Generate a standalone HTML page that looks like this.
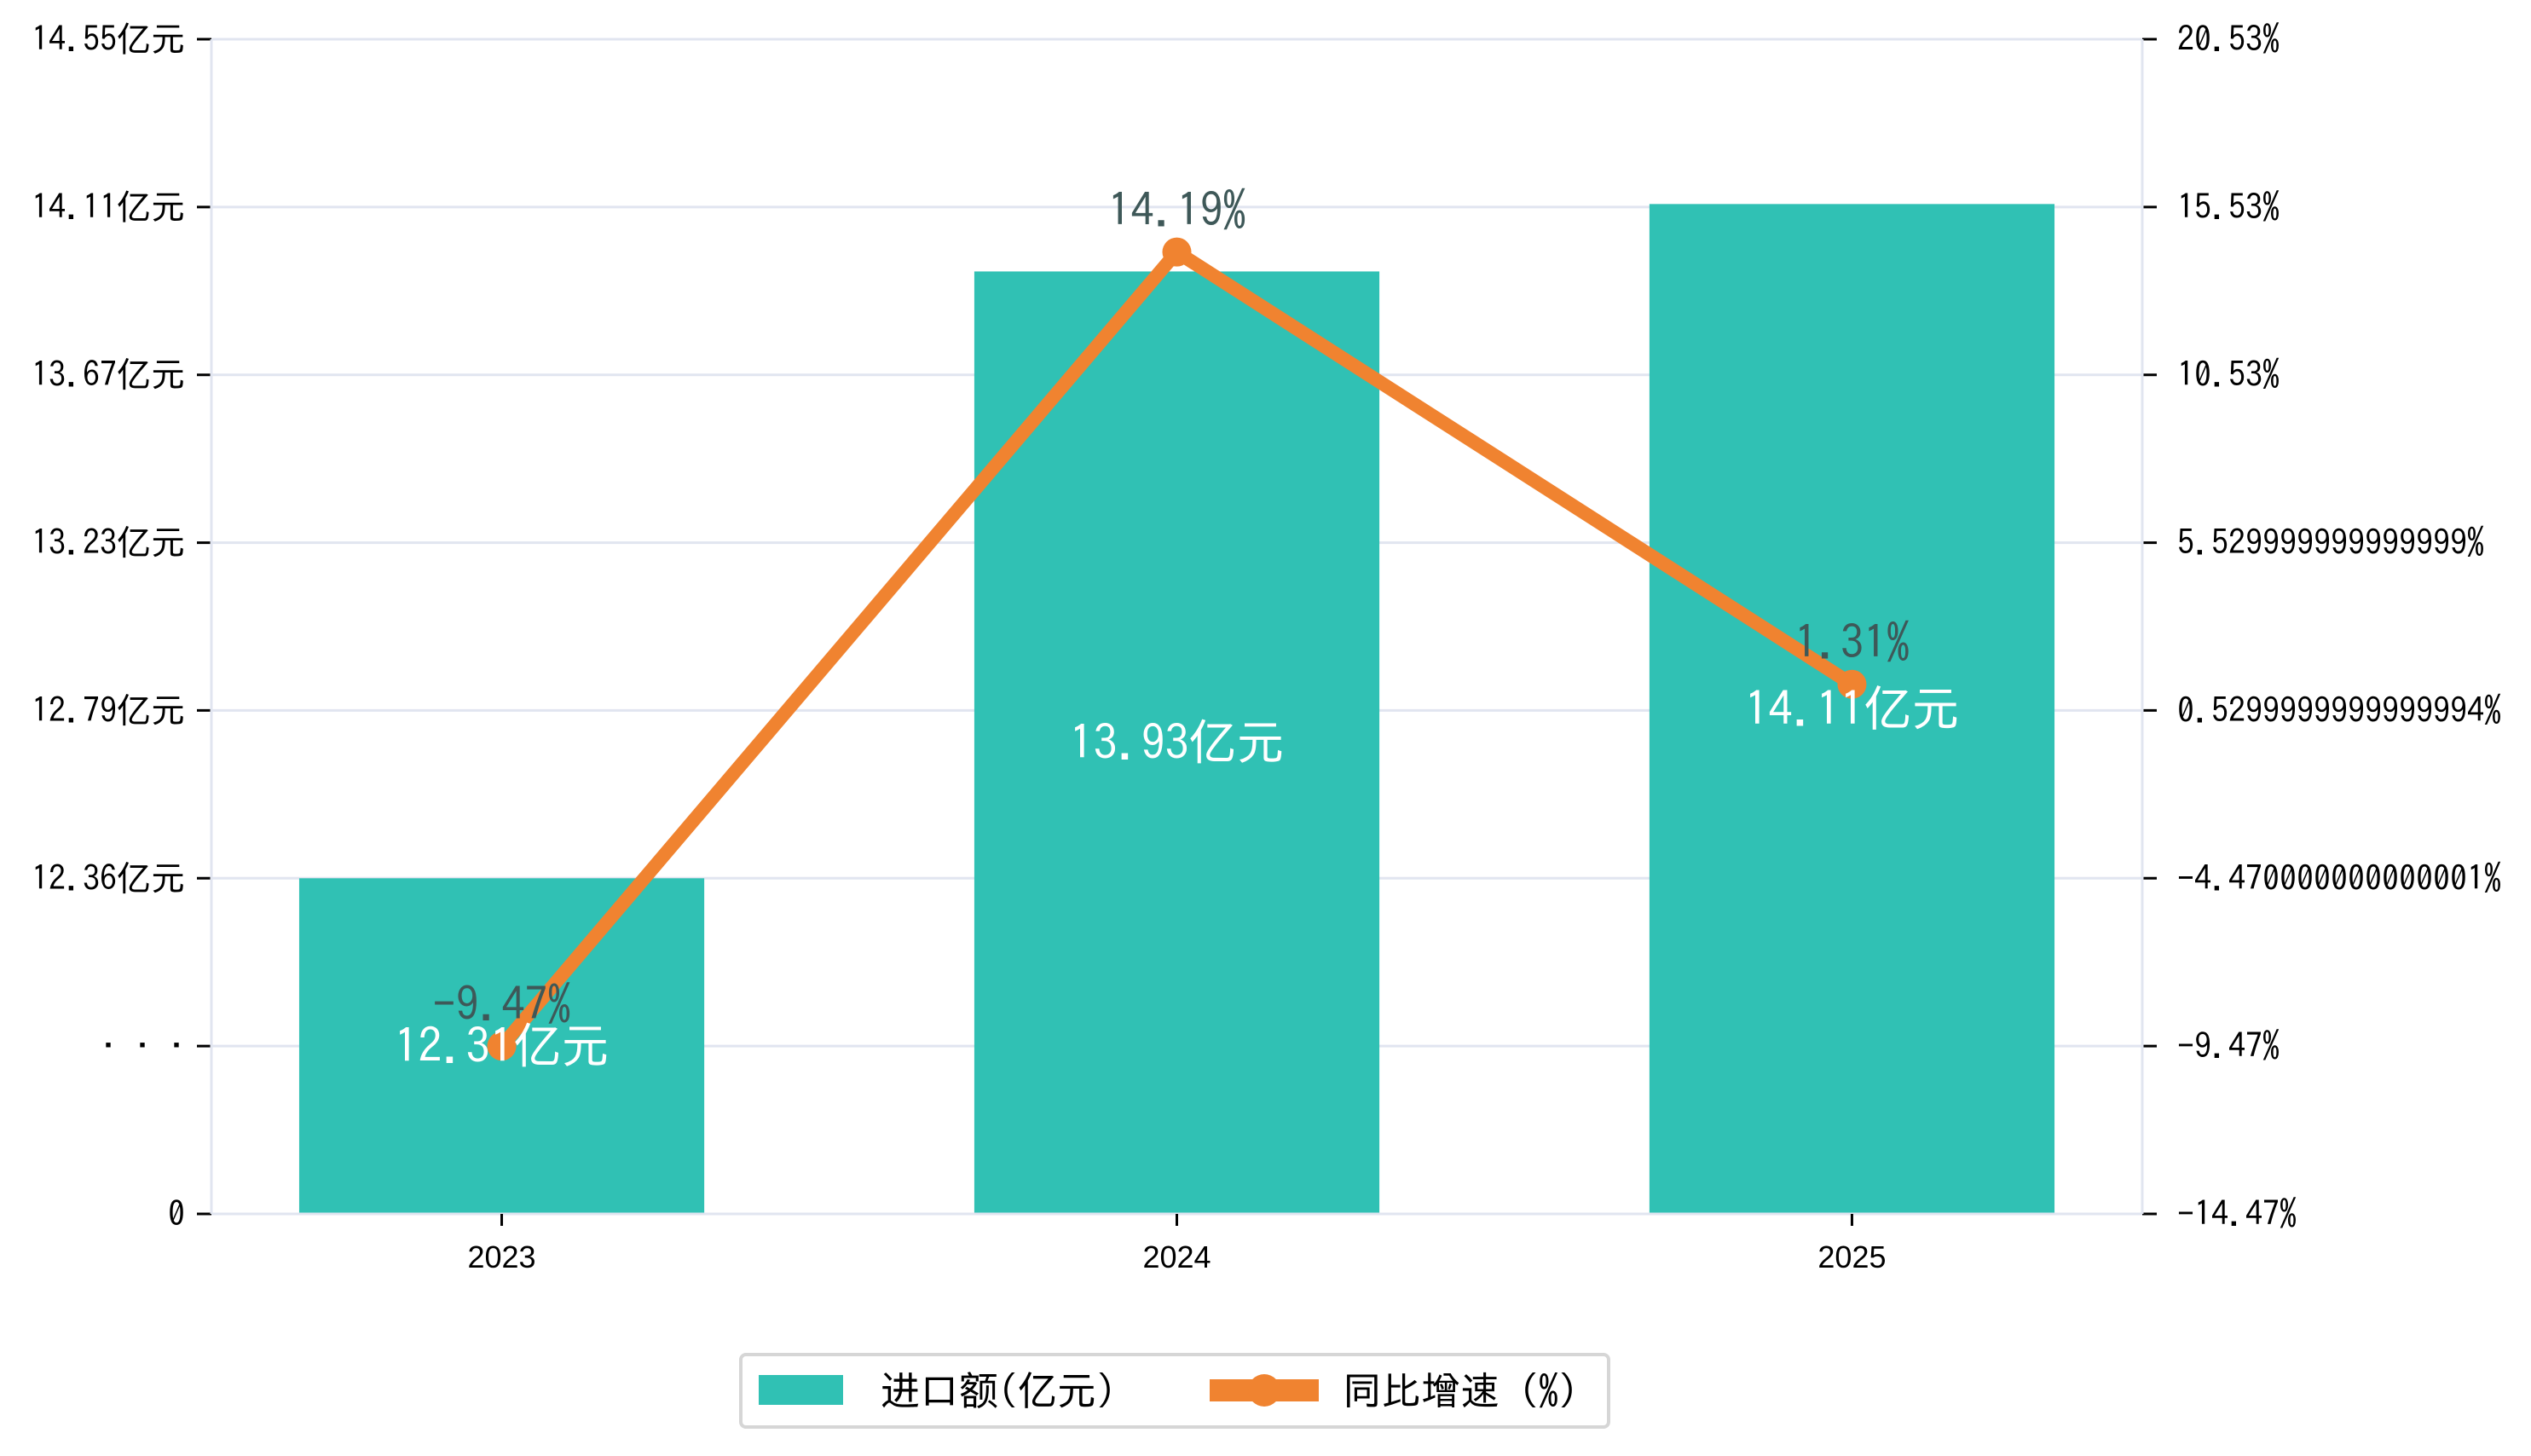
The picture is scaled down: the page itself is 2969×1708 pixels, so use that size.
<!DOCTYPE html>
<html><head><meta charset="utf-8">
<style>
html,body{margin:0;padding:0;background:#fff;}
svg text{font-family:"IPAGothic","Liberation Sans",sans-serif;}
svg text.lat{font-family:"Liberation Sans","Noto Sans CJK SC",sans-serif;}
</style></head>
<body>
<svg id="chart" width="2969" height="1703" viewBox="0 0 2969 1703" xmlns="http://www.w3.org/2000/svg">
<g id="grid"></g>
<g id="bars"></g>
<g id="axes"></g>
<g id="line"></g>
<g id="labels"></g>
<g transform="translate(-4,-6)">
  <rect x="873" y="1595" width="1018" height="85" rx="6" fill="#fff" stroke="#d6d6d6" stroke-width="4"/>
  <rect x="894" y="1619" width="99" height="35" fill="#30c1b4"/>
  <text x="1037" y="1654" font-size="46" fill="#000">进口额(亿元)</text>
  <line x1="1423" y1="1637" x2="1551" y2="1637" stroke="#f08330" stroke-width="26"/>
  <circle cx="1487" cy="1637" r="19" fill="#f08330"/>
  <text x="1579" y="1654" font-size="46" fill="#000">同比增速 (%)</text>
</g>
</svg>
<script>
const categories = ["2023","2024","2025"];
const importValues = [12.31, 13.93, 14.11];
const importLabels = ["12.31亿元","13.93亿元","14.11亿元"];
const growthValues = [-9.47, 14.19, 1.31];
const growthLabels = ["-9.47%","14.19%","1.31%"];
const leftTickLabels = ["0","· · ·","12.36亿元","12.79亿元","13.23亿元","13.67亿元","14.11亿元","14.55亿元"];
const rightTickValues = [-14.47,-9.47,-4.47,0.53,5.53,10.53,15.53,20.53];
const rightTickLabels = ["−14.47%","−9.47%","−4.470000000000001%","0.5299999999999994%","5.529999999999999%","10.53%","15.53%","20.53%"];

const NS="http://www.w3.org/2000/svg";
const X0=248, X1=2513, YT=46, YB=1424;
const gap=(YB-YT)/7;
const leftMin=12.31, leftMax=14.55;
function yTickPos(i){return YB-i*gap;}
function yLeft(v){return YT+(leftMax-v)/(leftMax-leftMin)*5*gap;}
const rMin=rightTickValues[0], rMax=rightTickValues[rightTickValues.length-1];
function yRight(v){return YB-(v-rMin)/(rMax-rMin)*(YB-YT);}
const xLo=-0.43, xHi=categories.length-1+0.43;
function xCat(i){return X0+(i-xLo)/(xHi-xLo)*(X1-X0);}
const unit=(X1-X0)/(xHi-xLo);
const barW=0.6*unit;
function mk(tag,attrs,parent,txt){const e=document.createElementNS(NS,tag);for(const k in attrs)e.setAttribute(k,attrs[k]);if(txt!==undefined)e.textContent=txt;parent.appendChild(e);return e;}
const grid=document.getElementById('grid'),bars=document.getElementById('bars'),axes=document.getElementById('axes'),line=document.getElementById('line'),labels=document.getElementById('labels');

leftTickLabels.forEach((t,i)=>{
  const y=yTickPos(i);
  const g=mk('line',{x1:X0,x2:X1,y1:y,y2:y,stroke:'#e1e5f0','stroke-width':3},grid);
  
  
  const tk=mk('line',{x1:X0-17,x2:X0,y1:y,y2:y,stroke:'#000','stroke-width':3},axes);
  
  
  const tx=mk('text',{x:217,y:y+14,'font-size':40,'text-anchor':'end',fill:'#000'},axes,t);
  
  
});
rightTickValues.forEach((v,i)=>{
  const y=yRight(v);
  const tk=mk('line',{x1:X1,x2:X1+17,y1:y,y2:y,stroke:'#000','stroke-width':3},axes);
  
  
  const tx=mk('text',{x:2554,y:y+14,'font-size':40,fill:'#000'},axes,rightTickLabels[i]);
  
  
});
[[X0,YT,X0,YB],[X1,YT,X1,YB],[X0,YB,X1,YB]].forEach(s=>{
  const l=mk('line',{x1:s[0],y1:s[1],x2:s[2],y2:s[3],stroke:'#e1e5f0','stroke-width':3},axes);
  
  
});
categories.forEach((c,i)=>{
  const cx=xCat(i);
  const tk=mk('line',{x1:cx,x2:cx,y1:YB,y2:YB+14,stroke:'#000','stroke-width':3},axes);
  
  
  const tx=mk('text',{x:cx,y:1487,'font-size':36,'text-anchor':'middle',fill:'#000','class':'lat'},axes,c);
  
  
  const top=yLeft(importValues[i]);
  const b=mk('rect',{x:cx-barW/2,y:top,width:barW,height:YB-top,fill:'#30c1b4'},bars);
  
  
  const bl=mk('text',{x:cx,y:(top+YB)/2+20,'font-size':56,'text-anchor':'middle',fill:'#fff'},labels,importLabels[i]);
  
  
});
const pts=growthValues.map((v,i)=>xCat(i)+','+yRight(v)).join(' ');
const pl=mk('polyline',{points:pts,fill:'none',stroke:'#f08330','stroke-width':16,'stroke-linejoin':'round'},line);


growthValues.forEach((v,i)=>{
  const c=mk('circle',{cx:xCat(i),cy:yRight(v),r:17,fill:'#f08330'},line);
  
  
  const t=mk('text',{x:xCat(i),y:yRight(v)-30,'font-size':54,'text-anchor':'middle',fill:'#3e5858'},labels,growthLabels[i]);
  
  
});
</script>
</body></html>
